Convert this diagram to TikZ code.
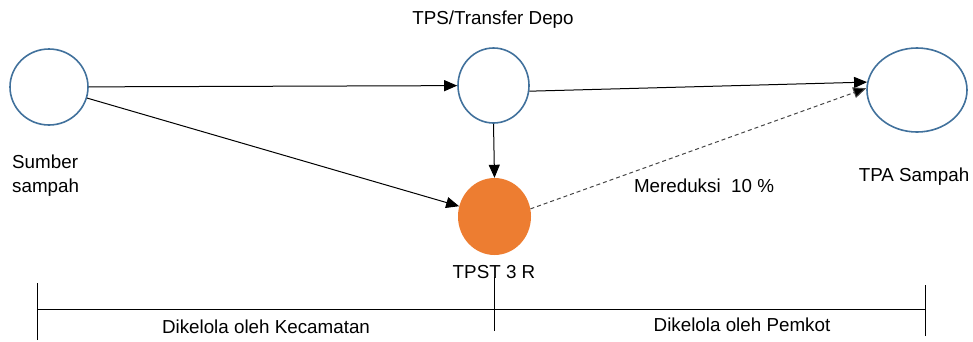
\documentclass[tikz,border=0pt]{standalone}
\usepackage{fontspec}
\setmainfont{Liberation Sans}
\usetikzlibrary{arrows.meta,shapes.geometric}
\definecolor{ringblue}{RGB}{65,113,156}
\definecolor{tpstorange}{RGB}{237,125,49}
\definecolor{dashgray}{RGB}{70,70,70}
\tikzset{
  station/.style={ellipse, draw=ringblue, line width=1.6pt, fill=white, inner sep=0pt},
  flow/.style={draw=black, line width=1pt, -{Triangle[length=13pt,width=11pt]}},
  reduce/.style={draw=dashgray, line width=1pt, dash pattern=on 4pt off 3pt, -{Triangle[length=13pt,width=11pt,fill=black]}},
  lbl/.style={font=\fontsize{18.8}{24}\selectfont, inner sep=0pt},
  rule/.style={draw=black, line width=0.9pt}
}
\begin{document}
\begin{tikzpicture}[x=1pt,y=-1pt]
\useasboundingbox (0,0) rectangle (973,341);
% stations
\node[station, minimum width=78pt, minimum height=76pt] (sumber) at (49,87) {};
\node[station, minimum width=71pt, minimum height=75pt] (tps) at (493.5,85.5) {};
\node[station, minimum width=100pt, minimum height=84pt] (tpa) at (917,90) {};
\node[ellipse, fill=tpstorange, inner sep=0pt, minimum width=73pt, minimum height=77pt] (tpst) at (494.5,216.5) {};
% labels
\node[lbl] (tpslbl) at (493,20) {TPS/Transfer Depo};
\node[lbl, anchor=north west, align=left] (sumberlbl) at (12,155) {Sumber\\sampah};
\node[lbl] (tpalbl) at (914,177) {TPA Sampah};
\node[lbl] (redlbl) at (704,186) {Mereduksi\ \ 10 \%};
\node[lbl] (tpstlbl) at (494,272) {TPST 3 R};
% flows
\draw[flow] (sumber) -- (tps);
\draw[flow] (sumber) -- (tpst);
\draw[flow] (tps.south) -- (tpst.north);
\draw[flow] (tps.-9) -- (tpa.171);
\draw[reduce] (tpst.12) -- (tpa.178);
% management scale
\coordinate (l0) at (37,309);
\coordinate (r0) at (925,309);
\coordinate (m0) at (494,309);
\draw[rule] (l0) -- (r0);
\draw[rule] ([yshift=-31pt]l0) -- ([yshift=26pt]l0);
\draw[rule] ([yshift=-27pt]r0) -- ([yshift=24pt]r0);
\draw[rule] ([yshift=-22pt]m0) -- ([yshift=32pt]m0);
\node[lbl] (kec) at (266,327) {Dikelola oleh Kecamatan};
\node[lbl] (pemkot) at (742,325) {Dikelola oleh Pemkot};
\end{tikzpicture}
\end{document}
